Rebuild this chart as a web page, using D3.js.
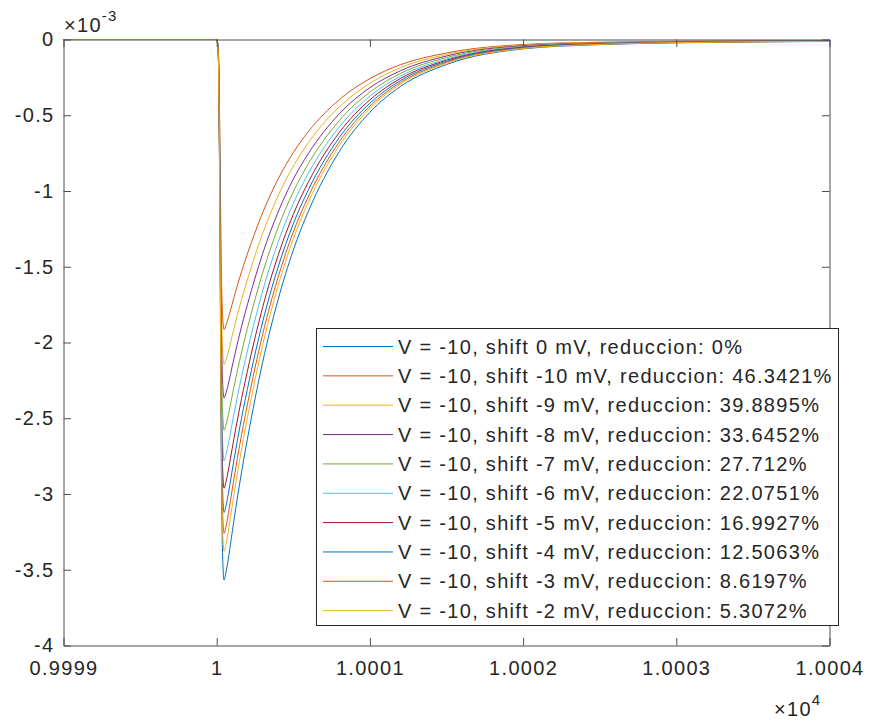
<!DOCTYPE html>
<html>
<head>
<meta charset="utf-8">
<script src="https://cdn.jsdelivr.net/npm/d3@7"></script>
<style>
  body { margin: 0; background: #fff; }
  svg { display: block; }
  text { font-family: "Liberation Sans", Arial, Helvetica, sans-serif; fill: #262626; letter-spacing: 1.3px; }
</style>
</head>
<body>
<svg id="chart" width="869" height="722"></svg>
<script>
// ---- data (x in units of 1e0, y in units of 1e-3) ----
const times = [9999, 10000, 10000.01, 10000.02, 10000.03, 10000.04, 10000.048, 10000.06, 10000.08, 10000.1,
  10000.15, 10000.2, 10000.3, 10000.4, 10000.5, 10000.6, 10000.8, 10001.0, 10001.2, 10001.5,
  10002.0, 10002.5, 10003.0, 10003.5, 10004.0];

const shift0   = [0, 0, -0.10, -1.10, -2.80, -3.45, -3.568, -3.52, -3.40, -3.26, -2.93, -2.64, -2.13, -1.72, -1.39, -1.13, -0.74, -0.48, -0.31, -0.165, -0.062, -0.034, -0.022, -0.016, -0.013];
const shiftM10 = [0, 0, -0.054, -0.590, -1.502, -1.851, -1.915, -1.889, -1.824, -1.749, -1.572, -1.417, -1.143, -0.923, -0.746, -0.606, -0.397, -0.258, -0.166, -0.089, -0.033, -0.018, -0.012, -0.009, -0.007];
const shiftM9  = [0, 0, -0.060, -0.661, -1.683, -2.074, -2.145, -2.116, -2.044, -1.960, -1.761, -1.587, -1.280, -1.034, -0.836, -0.679, -0.445, -0.289, -0.186, -0.099, -0.037, -0.020, -0.013, -0.010, -0.008];
const shiftM8  = [0, 0, -0.066, -0.730, -1.858, -2.289, -2.367, -2.336, -2.256, -2.163, -1.944, -1.752, -1.413, -1.141, -0.922, -0.750, -0.491, -0.318, -0.206, -0.109, -0.041, -0.023, -0.015, -0.011, -0.009];
const shiftM7  = [0, 0, -0.072, -0.795, -2.024, -2.494, -2.579, -2.545, -2.458, -2.357, -2.118, -1.908, -1.540, -1.243, -1.005, -0.817, -0.535, -0.347, -0.224, -0.119, -0.045, -0.025, -0.016, -0.012, -0.009];
const shiftM6  = [0, 0, -0.078, -0.857, -2.182, -2.688, -2.780, -2.743, -2.649, -2.540, -2.283, -2.057, -1.660, -1.340, -1.083, -0.880, -0.577, -0.374, -0.242, -0.129, -0.048, -0.026, -0.017, -0.012, -0.010];
const shiftM5  = [0, 0, -0.083, -0.913, -2.324, -2.864, -2.962, -2.922, -2.822, -2.706, -2.432, -2.191, -1.768, -1.428, -1.154, -0.938, -0.614, -0.398, -0.257, -0.137, -0.051, -0.028, -0.018, -0.013, -0.011];
const shiftM4  = [0, 0, -0.087, -0.962, -2.450, -3.018, -3.122, -3.080, -2.975, -2.852, -2.563, -2.310, -1.864, -1.505, -1.216, -0.989, -0.647, -0.420, -0.271, -0.144, -0.054, -0.030, -0.019, -0.014, -0.011];
const shiftM3  = [0, 0, -0.091, -1.005, -2.559, -3.153, -3.260, -3.217, -3.107, -2.979, -2.677, -2.412, -1.946, -1.572, -1.270, -1.033, -0.676, -0.439, -0.283, -0.151, -0.057, -0.031, -0.020, -0.015, -0.012];
const shiftM2  = [0, 0, -0.095, -1.042, -2.651, -3.267, -3.379, -3.333, -3.219, -3.087, -2.774, -2.500, -2.017, -1.629, -1.316, -1.070, -0.701, -0.455, -0.294, -0.156, -0.059, -0.032, -0.021, -0.015, -0.012];

const seriesNames = [
  "V = -10, shift 0 mV, reduccion: 0%",
  "V = -10, shift -10 mV, reduccion: 46.3421%",
  "V = -10, shift -9 mV, reduccion: 39.8895%",
  "V = -10, shift -8 mV, reduccion: 33.6452%",
  "V = -10, shift -7 mV, reduccion: 27.712%",
  "V = -10, shift -6 mV, reduccion: 22.0751%",
  "V = -10, shift -5 mV, reduccion: 16.9927%",
  "V = -10, shift -4 mV, reduccion: 12.5063%",
  "V = -10, shift -3 mV, reduccion: 8.6197%",
  "V = -10, shift -2 mV, reduccion: 5.3072%"
];
const seriesValues = [shift0, shiftM10, shiftM9, shiftM8, shiftM7, shiftM6, shiftM5, shiftM4, shiftM3, shiftM2];
const seriesColors = ["#0072BD", "#D95319", "#EDB120", "#7E2F8E", "#77AC30", "#4DBEEE", "#A2142F", "#0072BD", "#D95319", "#EDB120"];

const xTicks = [9999, 10000, 10001, 10002, 10003, 10004];
const xTickLabels = ["0.9999", "1", "1.0001", "1.0002", "1.0003", "1.0004"];
const yTicks = [-4, -3.5, -3, -2.5, -2, -1.5, -1, -0.5, 0];
const yTickLabels = ["-4", "-3.5", "-3", "-2.5", "-2", "-1.5", "-1", "-0.5", "0"];

// ---- layout ----
const L = 63.5, T = 39.5, W = 766, H = 606;
const svg = d3.select("#chart");
const x = d3.scaleLinear().domain([9999, 10004]).range([L, L + W]);
const y = d3.scaleLinear().domain([-4, 0]).range([T + H, T]);
const axisColor = "#4d4d4d";
const tickLen = 7.5;

svg.append("defs").append("clipPath").attr("id", "clip")
  .append("rect").attr("x", L).attr("y", T - 1).attr("width", W).attr("height", H + 2);

// lines
const line = d3.line().x(d => x(d[0])).y(d => y(d[1])).curve(d3.curveMonotoneX);
const plot = svg.append("g").attr("clip-path", "url(#clip)");
seriesValues.forEach((vals, i) => {
  plot.append("path")
    .datum(times.map((t, j) => [t, vals[j]]))
    .attr("d", line)
    .attr("fill", "none")
    .attr("stroke", seriesColors[i])
    .attr("stroke-width", 1);
});

// axes (MATLAB style box with ticks inside on all sides)
const fmtX = d => xTickLabels[xTicks.indexOf(d)];
const fmtY = d => yTickLabels[yTicks.indexOf(d)];
const styleAxis = g => {
  g.select(".domain").attr("stroke", axisColor).attr("stroke-width", 1);
  g.selectAll(".tick line").attr("stroke", axisColor).attr("stroke-width", 1);
  g.selectAll(".tick text").attr("fill", "#262626").style("font-size", "20px")
    .style("font-family", "'Liberation Sans', Arial, sans-serif");
};
svg.append("g").attr("transform", `translate(0,${T + H})`)
  .call(d3.axisBottom(x).tickValues(xTicks).tickFormat(fmtX).tickSizeInner(-tickLen).tickSizeOuter(0).tickPadding(15))
  .call(styleAxis);
svg.append("g").attr("transform", `translate(0,${T})`)
  .call(d3.axisTop(x).tickValues(xTicks).tickFormat("").tickSizeInner(-tickLen).tickSizeOuter(0))
  .call(styleAxis);
svg.append("g").attr("transform", `translate(${L},0)`)
  .call(d3.axisLeft(y).tickValues(yTicks).tickFormat(fmtY).tickSizeInner(-tickLen).tickSizeOuter(0).tickPadding(9))
  .call(styleAxis);
svg.append("g").attr("transform", `translate(${L + W},0)`)
  .call(d3.axisRight(y).tickValues(yTicks).tickFormat("").tickSizeInner(-tickLen).tickSizeOuter(0))
  .call(styleAxis);

// exponent labels
const ey = svg.append("text").attr("x", 64).attr("y", 32).style("font-size", "20px");
ey.append("tspan").text("\u00D710");
ey.append("tspan").attr("dy", -11).style("font-size", "15px").text("-3");
const ex = svg.append("text").attr("x", 774).attr("y", 716).style("font-size", "20px");
ex.append("tspan").text("\u00D710");
ex.append("tspan").attr("dy", -11).style("font-size", "15px").text("4");

// legend
const lgX = 316.5, lgY = 328.5, lgW = 522, lgH = 297, rowH = 29.35, row0 = 346.5;
const lg = svg.append("g");
lg.append("rect").attr("x", lgX).attr("y", lgY).attr("width", lgW).attr("height", lgH)
  .attr("fill", "#fff").attr("stroke", "#262626").attr("stroke-width", 1);
seriesNames.forEach((name, i) => {
  const cy = row0 + i * rowH;
  lg.append("line").attr("x1", 323).attr("x2", 393).attr("y1", cy).attr("y2", cy)
    .attr("stroke", seriesColors[i]).attr("stroke-width", 1);
  lg.append("text").attr("x", 398).attr("y", cy).attr("dy", "0.35em")
    .style("font-size", "20px").text(name);
});
</script>
</body>
</html>
